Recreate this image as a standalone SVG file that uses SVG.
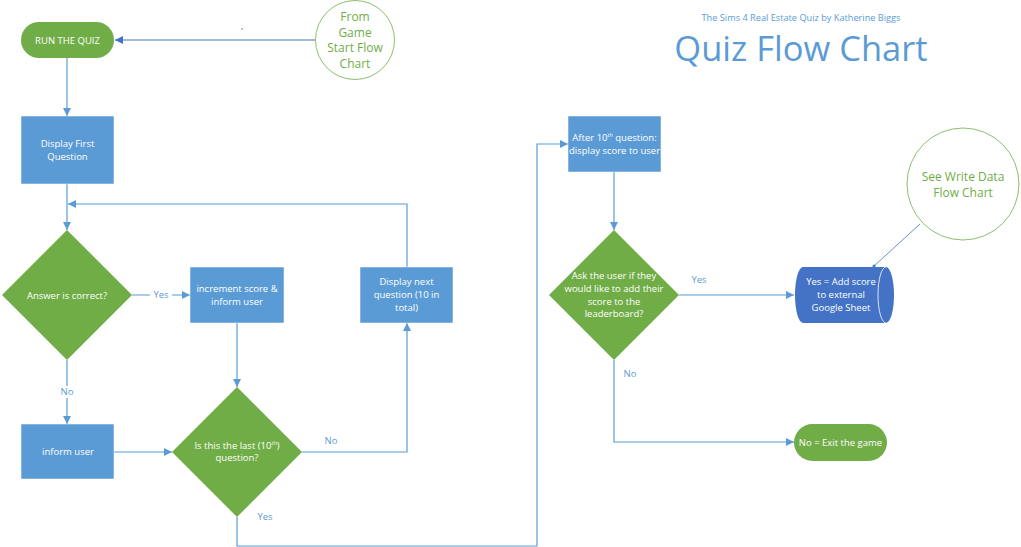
<svg xmlns="http://www.w3.org/2000/svg" width="1021" height="547" viewBox="0 0 1021 547">
<style>
.t{font-family:"Open Sans","Noto Sans",sans-serif;font-size:9.5px;fill:#ffffff;text-anchor:middle}
.lbl{font-family:"Open Sans","Noto Sans",sans-serif;font-size:9.5px;fill:#5b9bd5;text-anchor:middle}
.g{font-family:"Open Sans","Noto Sans",sans-serif;font-size:12px;fill:#70ad47;text-anchor:middle}
.box{fill:#5b9bd5;stroke:#ffffff;stroke-width:0.5}
.dia{fill:#70ad47}
.pill{fill:#70ad47}
.ln{fill:none;stroke:#5b9bd5;stroke-width:1.2}
</style>
<defs>
<marker id="ah" viewBox="0 0 10 10" refX="10" refY="5" markerWidth="8" markerHeight="8" markerUnits="userSpaceOnUse" orient="auto">
<path d="M0,0 L10,5 L0,10 z" fill="#5b9bd5"/>
</marker>
<marker id="ah2" viewBox="0 0 10 10" refX="10" refY="5" markerWidth="8" markerHeight="8" markerUnits="userSpaceOnUse" orient="auto">
<path d="M0,0 L10,5 L0,10 z" fill="#4472c4"/>
</marker>
</defs>
<rect width="1021" height="547" fill="#ffffff"/>
<g id="title">
<text x="801" y="21" style="font-family:'Open Sans','Noto Sans',sans-serif;font-size:9.2px;fill:#5b9bd5;text-anchor:middle">The Sims 4 Real Estate Quiz by Katherine Biggs</text>
<text x="801" y="61" style="font-family:'Open Sans','Noto Sans',sans-serif;font-size:34.5px;fill:#5b9bd5;text-anchor:middle">Quiz Flow Chart</text>
</g>
<g id="connectors">
<path class="ln" d="M315,40 H115" style="stroke:#4472c4" marker-end="url(#ah2)"/>
<circle cx="242" cy="29" r="0.8" fill="#4472c4"/>
<path class="ln" d="M67,58 V116" marker-end="url(#ah)"/>
<path class="ln" d="M67,184 V230" marker-end="url(#ah)"/>
<path class="ln" d="M407,267 V204 H68" marker-end="url(#ah)"/>
<path class="ln" d="M132,295 H190" marker-end="url(#ah)"/>
<path class="ln" d="M237,323 V387" marker-end="url(#ah)"/>
<path class="ln" d="M67,360 V424" marker-end="url(#ah)"/>
<path class="ln" d="M114,452 H172" marker-end="url(#ah)"/>
<path class="ln" d="M302,452 H407 V323" marker-end="url(#ah)"/>
<path class="ln" d="M237,517 V546 H537 V144 H568" marker-end="url(#ah)"/>
<path class="ln" d="M614,172 V230" marker-end="url(#ah)"/>
<path class="ln" d="M679,295 H794" marker-end="url(#ah)"/>
<path class="ln" d="M614,360 V442 H794" marker-end="url(#ah)"/>
<path d="M920,224 L874,266" fill="none" stroke="#4472c4" stroke-width="0.8"/>
<circle cx="874" cy="266" r="1.5" fill="#4472c4"/>
<rect x="150" y="289" width="22" height="12" fill="#ffffff"/>
<text class="lbl" x="161" y="298">Yes</text>
<rect x="58" y="386" width="18" height="12" fill="#ffffff"/>
<text class="lbl" x="67" y="395">No</text>
<text class="lbl" x="331" y="444">No</text>
<text class="lbl" x="265" y="520">Yes</text>
<text class="lbl" x="699" y="283">Yes</text>
<text class="lbl" x="630" y="377">No</text>
</g>
<g id="run-the-quiz">
<rect class="pill" x="21" y="22" width="93" height="36" rx="18"/>
<text class="t" x="67.5" y="43.5">RUN THE QUIZ</text>
</g>
<g id="from-game-start">
<circle cx="355" cy="40" r="39.5" fill="#ffffff" stroke="#70ad47" stroke-width="0.8"/>
<text class="g" x="355" y="21">From</text>
<text class="g" x="355" y="36.5">Game</text>
<text class="g" x="355" y="52">Start Flow</text>
<text class="g" x="355" y="68">Chart</text>
</g>
<g id="display-first">
<rect class="box" x="21" y="116" width="93" height="68"/>
<text class="t" x="67.5" y="147">Display First</text>
<text class="t" x="67.5" y="160">Question</text>
</g>
<g id="answer-correct">
<polygon class="dia" points="67,230 132,295 67,360 2,295"/>
<text class="t" x="67" y="298.5">Answer is correct?</text>
</g>
<g id="increment-score">
<rect class="box" x="190" y="267" width="94" height="56"/>
<text class="t" x="237" y="292">increment score &amp;</text>
<text class="t" x="237" y="305">inform user</text>
</g>
<g id="display-next">
<rect class="box" x="360" y="267" width="93" height="56"/>
<text class="t" x="406.5" y="285">Display next</text>
<text class="t" x="406.5" y="298">question (10 in</text>
<text class="t" x="406.5" y="311">total)</text>
</g>
<g id="inform-user">
<rect class="box" x="21" y="424" width="93" height="55"/>
<text class="t" x="68" y="455">inform user</text>
</g>
<g id="is-last">
<polygon class="dia" points="237,387 302,452 237,517 172,452"/>
<text class="t" x="237" y="449">Is this the last (10<tspan font-size="5.5" dy="-4">th</tspan><tspan dy="4">)</tspan></text>
<text class="t" x="237" y="461">question?</text>
</g>
<g id="after-10th">
<rect class="box" x="568" y="116" width="93" height="56"/>
<text class="t" x="614.5" y="141">After 10<tspan font-size="5.5" dy="-4">th</tspan><tspan dy="4"> question:</tspan></text>
<text class="t" x="614.5" y="154">display score to user</text>
</g>
<g id="ask-leaderboard">
<polygon class="dia" points="614,230 679,295 614,360 549,295"/>
<text class="t" x="614" y="279">Ask the user if they</text>
<text class="t" x="614" y="292">would like to add their</text>
<text class="t" x="614" y="305">score to the</text>
<text class="t" x="614" y="317">leaderboard?</text>
</g>
<g id="add-score">
<path d="M803,267 H886 A8,28 0 0 1 886,323 H803 A8,28 0 0 1 803,267 z" fill="#4472c4"/>
<path d="M886,267 A8,28 0 0 0 886,323" fill="none" stroke="#ffffff" stroke-width="0.8"/>
<text class="t" x="841" y="285">Yes = Add score</text>
<text class="t" x="841" y="298">to external</text>
<text class="t" x="841" y="311">Google Sheet</text>
</g>
<g id="see-write-data">
<circle cx="963" cy="184" r="56" fill="#ffffff" stroke="#70ad47" stroke-width="0.8"/>
<text class="g" x="963" y="181">See Write Data</text>
<text class="g" x="963" y="197">Flow Chart</text>
</g>
<g id="exit-game">
<rect class="pill" x="794" y="424" width="93" height="37" rx="18.5"/>
<text class="t" x="840.5" y="445.5">No = Exit the game</text>
</g>
</svg>
